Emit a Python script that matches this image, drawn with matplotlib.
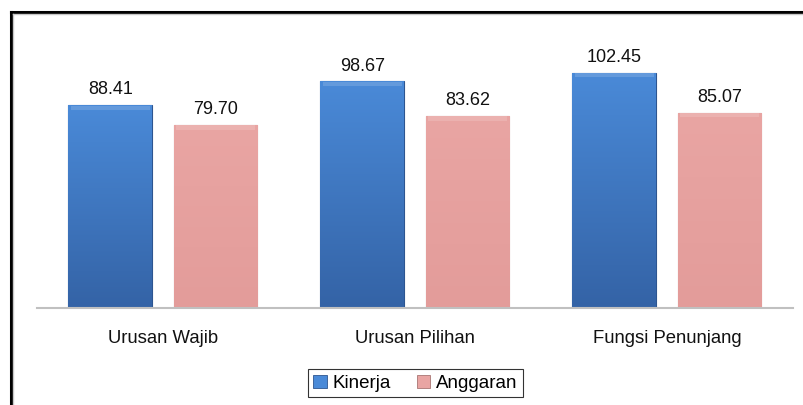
import matplotlib.pyplot as plt
import numpy as np
from matplotlib.lines import Line2D
from matplotlib.patches import Patch

categories = ["Urusan Wajib", "Urusan Pilihan", "Fungsi Penunjang"]
kinerja = [88.41, 98.67, 102.45]
anggaran = [79.70, 83.62, 85.07]
series_names = ["Kinerja", "Anggaran"]

plt.rcParams['font.family'] = ['Liberation Sans', 'DejaVu Sans']

fig = plt.figure(figsize=(8.04, 4.05), dpi=100)
ax = fig.add_axes([0.046, 0.2395, 0.9403, 0.6802])

x = np.arange(len(categories))
width = 0.333
offset = 0.2085

styles = [
    ("#4a8ad8", "#3463a6", "#2d5590"),
    ("#e9a5a3", "#e39c9a", "#a87573"),
]

for i, (vals, (top_c, bot_c, edge_c)) in enumerate(zip([kinerja, anggaran], styles)):
    pos = x - offset if i == 0 else x + offset
    bars = ax.bar(pos, vals, width, color=bot_c, edgecolor=edge_c,
                  linewidth=0.8, zorder=2)
    grad = np.linspace(0, 1, 256).reshape(-1, 1)
    c1 = np.array(plt.matplotlib.colors.to_rgb(bot_c))
    c2 = np.array(plt.matplotlib.colors.to_rgb(top_c))
    img = c1 + (c2 - c1) * grad[..., None]
    for b, v in zip(bars, vals):
        x0 = b.get_x()
        im = ax.imshow(img, extent=[x0, x0 + width, 0, v], origin="lower",
                       aspect="auto", zorder=2.5)
        im.set_clip_path(b)
        # soft bevel along the top
        ax.fill_between([x0 + 0.01, x0 + width - 0.01], v - 2.0, v - 0.2,
                        color="white", alpha=0.15, zorder=3, lw=0)
        ax.annotate(f"{v:.2f}", (b.get_x() + width / 2, v),
                    xytext=(0, 5), textcoords="offset points",
                    ha="center", va="bottom", fontsize=13, color="#111111")

ax.set_xlim(-0.5, len(categories) - 0.5)
ax.set_ylim(0, 120)
ax.set_xticks(x)
ax.set_xticklabels(categories, fontsize=13.3, color="#111111")
ax.tick_params(axis="x", length=0, pad=16)
ax.set_yticks([])
for s in ["top", "left", "right"]:
    ax.spines[s].set_visible(False)
ax.spines["bottom"].set_color("#c0c0c0")
ax.spines["bottom"].set_linewidth(1.5)
ax.spines["bottom"].set_zorder(4)

handles = [Patch(facecolor=styles[0][0], edgecolor=styles[0][2], lw=0.6),
           Patch(facecolor=styles[1][0], edgecolor=styles[1][2], lw=0.6)]
leg = fig.legend(handles, series_names, loc="center",
                 bbox_to_anchor=(0.5165, 0.054), ncol=2, fontsize=13.5,
                 frameon=True, fancybox=False, handlelength=0.7,
                 handleheight=0.7, handletextpad=0.3, columnspacing=1.4,
                 borderpad=0.3, borderaxespad=0.3)
leg.get_frame().set_edgecolor("black")
leg.get_frame().set_linewidth(0.8)

# chart frame (top and left edges visible in the crop)
W, H = 804, 405
fig.add_artist(Line2D([11.5 / W, 11.5 / W], [0, 1 - 11.5 / H], color="black",
                      lw=2.2, transform=fig.transFigure))
fig.add_artist(Line2D([11.5 / W, 1], [1 - 11.5 / H, 1 - 11.5 / H], color="black",
                      lw=2.2, transform=fig.transFigure))
fig.add_artist(Line2D([13.5 / W, 13.5 / W], [0, 1 - 13.5 / H], color="#c8c8c8",
                      lw=1.0, transform=fig.transFigure))
fig.add_artist(Line2D([13.5 / W, 1], [1 - 13.5 / H, 1 - 13.5 / H], color="#c8c8c8",
                      lw=1.0, transform=fig.transFigure))

fig.savefig("out.png", dpi=100)
